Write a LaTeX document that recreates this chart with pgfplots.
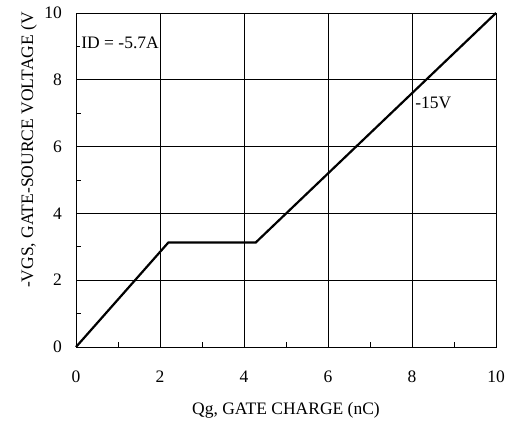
\documentclass[border=0pt]{standalone}
\usepackage{pgfplots}
\pgfplotsset{compat=1.18}
\usepackage{fontspec}
\setmainfont{Liberation Serif}
\begin{document}
\begin{tikzpicture}[x=1pt,y=1pt]
\fontsize{17.5}{20}\selectfont
\begin{axis}[
  scale only axis,
  width=420pt, height=334pt,
  at={(76pt,75pt)}, anchor=origin,
  xmin=0, xmax=10, ymin=0, ymax=10,
  xtick={0,2,...,10}, ytick={0,2,...,10},
  minor xtick={1,3,...,9}, minor ytick={1,3,...,9},
  grid=major,
  major grid style={black, line width=0.7pt},
  major tick length=0pt,
  minor tick length=5pt,
  tick style={black, line width=0.6pt},
  minor tick style={black, line width=0.6pt},
  tick align=inside,
  xtick pos=bottom, ytick pos=left,
  axis line style={black, line width=0.8pt},
  tick label style={font=\fontsize{17.5}{20}\selectfont},
  /pgf/number format/assume math mode=true,
  xticklabel style={yshift=-18pt},
  yticklabel style={xshift=-8pt},
  xlabel={Qg, GATE CHARGE (nC)},
  ylabel={-VGS, GATE-SOURCE VOLTAGE (V},
  label style={font=\fontsize{17.5}{20}\selectfont},
  xlabel style={at={(axis description cs:0.5,-0.19)}, anchor=center},
  ylabel style={at={(axis description cs:-0.112,0.59)}, anchor=center},
  clip=false,
]
\addplot[black, line width=2.2pt] coordinates {(0,0) (2.2,3.13) (4.28,3.13) (10,10)};
\node[anchor=west, fill=white, inner sep=1pt, font=\fontsize{17.5}{20}\selectfont] at (axis cs:0.1,9.1) {ID = -5.7A};
\node[anchor=west, inner sep=1pt, font=\fontsize{17.5}{20}\selectfont] at (axis cs:8.05,7.3) {-15V};
\end{axis}
\pgfresetboundingbox
\path[use as bounding box] (0,0) rectangle (505,422);
\end{tikzpicture}
\end{document}
